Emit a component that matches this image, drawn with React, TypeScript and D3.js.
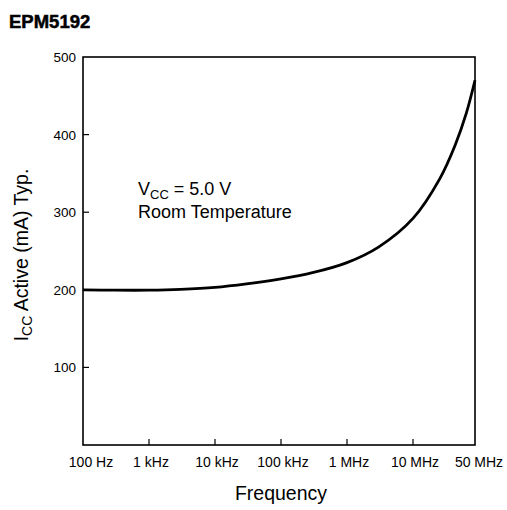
import React from "react";
import * as d3 from "d3";

// frequency (Hz) and typical Icc (mA)
const freqs = [100, 300, 1e3, 3e3, 1e4, 3e4, 1e5, 3e5, 1e6, 3e6, 1e7, 2e7, 3e7, 4e7, 5e7];
const iccValues = [200, 199.5, 199.5, 200.5, 203, 207.5, 214, 222, 235, 255, 292, 343, 387, 428, 470];

const xTicks = [100, 1e3, 1e4, 1e5, 1e6, 1e7, 5e7];
const xTickLabels = ["100 Hz", "1 kHz", "10 kHz", "100 kHz", "1 MHz", "10 MHz", "50 MHz"];
const yTicks = [100, 200, 300, 400, 500];

const W = 507;
const H = 510;
const left = 83;
const right = 475;
const top = 57;
const bottom = 445;

export default function App() {
  // the last stretch (10 MHz -> 50 MHz) is drawn wider than a true log step, so use a piecewise log
  const xScale = d3.scaleLog().domain([100, 1e7, 5e7]).range([left, 413, right]);
  const yScale = d3.scaleLinear().domain([0, 500]).range([bottom, top]);

  const line = d3
    .line<number>()
    .x((_, i) => xScale(freqs[i]))
    .y((d) => yScale(d))
    .curve(d3.curveCatmullRom.alpha(0.5));

  const font = "'Liberation Sans', Arial, Helvetica, sans-serif";

  return (
    <svg width={W} height={H} style={{ position: "absolute", left: 0, top: 0, background: "#fff" }}>
      <text x={9} y={28} fontFamily="'Liberation Sans Narrow', 'Arial Narrow', sans-serif" fontWeight="bold" fontSize={18.5} stroke="#000" strokeWidth={0.5}>
        EPM5192
      </text>

      {/* frame */}
      <rect x={left} y={top} width={right - left} height={bottom - top} fill="none" stroke="#000" strokeWidth={1.6} />

      {/* y ticks */}
      {yTicks.map((t) => (
        <g key={t}>
          {t < 500 && <line x1={left} x2={left + 6} y1={yScale(t)} y2={yScale(t)} stroke="#000" strokeWidth={1.2} />}
          <text x={76} y={yScale(t) + 5} textAnchor="end" fontFamily={font} fontSize={13.5}>
            {t}
          </text>
        </g>
      ))}

      {/* x ticks */}
      {xTicks.map((t, i) => (
        <g key={t}>
          {i > 0 && i < xTicks.length - 1 && (
            <line x1={xScale(t)} x2={xScale(t)} y1={bottom} y2={bottom - 6} stroke="#000" strokeWidth={1.2} />
          )}
          <text x={xScale(t) + (i === 0 ? 8 : i === xTicks.length - 1 ? 4 : 2)} y={467} textAnchor="middle" fontFamily={font} fontSize={14}>
            {xTickLabels[i]}
          </text>
        </g>
      ))}

      {/* curve */}
      <path d={line(iccValues) || ""} fill="none" stroke="#000" strokeWidth={2.8} />

      {/* annotation */}
      <text x={138} y={195} fontFamily={font} fontSize={18}>
        V<tspan fontSize={13} dy={4}>CC</tspan>
        <tspan dy={-4}> = 5.0 V</tspan>
      </text>
      <text x={138} y={218} fontFamily={font} fontSize={18}>
        Room Temperature
      </text>

      {/* axis titles */}
      <text x={281} y={500} textAnchor="middle" fontFamily={font} fontSize={19.5}>
        Frequency
      </text>
      <text transform="translate(28,255) rotate(-90)" textAnchor="middle" fontFamily={font} fontSize={19.5}>
        I<tspan fontSize={14} dy={4}>CC</tspan>
        <tspan dy={-4}> Active (mA) Typ.</tspan>
      </text>
    </svg>
  );
}
